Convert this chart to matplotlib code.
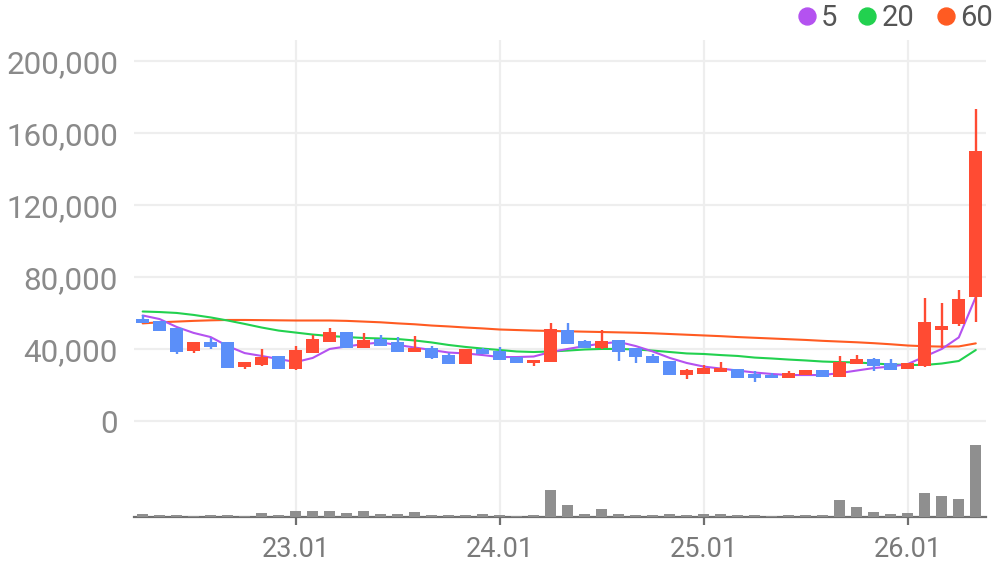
import matplotlib
matplotlib.use("Agg")
import matplotlib.pyplot as plt
from matplotlib.lines import Line2D
import numpy as np
import pandas as pd

plt.rcParams['font.family'] = ['Roboto', 'DejaVu Sans']

# ---------------- data (monthly candles) ----------------
months = pd.date_range('2022-04-01', periods=50, freq='MS')

opens = [56800, 55700, 51800, 39200, 44000, 44000, 30300, 31400, 36200, 29100,
         38100, 44200, 49600, 40800, 45700, 43800, 38600, 40700, 36800, 31900,
         40100, 39000, 36000, 32500, 33000, 50700, 44600, 40700, 45100, 41000,
         36200, 33400, 25800, 26300, 27500, 28800, 26200, 25600, 24100, 25600,
         28400, 24700, 31900, 34400, 32500, 28800, 30600, 50700, 54000, 69200]
highs = [59000, 55700, 51800, 44000, 46400, 44000, 32900, 40300, 36200, 41800,
         48100, 51800, 49600, 49000, 47900, 46800, 47400, 41900, 38100, 40300,
         40800, 41200, 36000, 34000, 54600, 54600, 45100, 50700, 45100, 41000,
         37300, 33400, 29000, 31200, 32900, 28800, 27900, 26600, 27900, 28400,
         28400, 36200, 36800, 35300, 34500, 32300, 68500, 65700, 73000, 173300]
lows = [54800, 50300, 37500, 38100, 40300, 29700, 29200, 30800, 29100, 28600,
        38100, 44200, 40800, 40800, 41900, 38600, 38600, 34500, 31900, 31900,
        37200, 34200, 32500, 30800, 33000, 43100, 40700, 40100, 33600, 32500,
        32500, 25800, 23600, 26300, 27500, 24100, 21900, 24100, 24100, 25600,
        24700, 24700, 31900, 28000, 28400, 28800, 30300, 40500, 52900, 55300]
closes = [54800, 50300, 38600, 44000, 41200, 29700, 32900, 35800, 29100, 39600,
          45800, 49600, 40800, 45300, 41900, 38600, 40800, 35300, 31900, 40300,
          37200, 34200, 32500, 34000, 51300, 43100, 40700, 44600, 38600, 35800,
          32500, 25800, 28400, 29500, 29500, 24100, 24100, 24100, 26600, 28400,
          24700, 32900, 34400, 30800, 28400, 32300, 55200, 52700, 68000, 150400]
volumes = [2.7, 1.7, 1.7, 0.7, 1.7, 1.7, 0.7, 3.7, 1.7, 5.7,
           5.7, 5.7, 3.7, 5.7, 2.7, 2.7, 4.7, 1.7, 1.7, 1.7,
           2.7, 1.7, 0.7, 1.7, 26.7, 11.7, 2.7, 7.7, 2.7, 1.7,
           1.7, 2.7, 1.7, 2.7, 2.7, 1.7, 1.7, 0.7, 1.7, 1.7,
           1.7, 16.7, 9.7, 4.7, 2.7, 3.7, 23.7, 20.7, 17.7, 71.7]

ma5 = [58800, 56800, 52400, 49100, 46800, 41800, 37900, 36300, 34600, 32900,
       35200, 40200, 41600, 42900, 43800, 42400, 41000, 39600, 38200, 37700,
       36800, 35700, 35700, 36000, 38500, 40200, 41800, 43200, 44100, 41800,
       38800, 35200, 32400, 30400, 29300, 28200, 27100, 26300, 25700, 25700,
       25700, 26800, 28200, 29600, 30400, 31800, 36000, 40200, 46600, 69100]
ma20 = [61000, 60700, 60200, 59100, 57700, 56000, 54100, 52100, 50400, 49300,
        48200, 47400, 46800, 46300, 46000, 45700, 44900, 43800, 42400, 41300,
        40400, 39600, 38800, 38500, 38800, 39300, 39900, 40200, 40200, 39900,
        39300, 38500, 37700, 37400, 36800, 36300, 35400, 34900, 34300, 33800,
        33200, 32900, 32700, 32100, 31600, 31300, 31300, 32100, 33500, 39600]
ma60 = [54400, 55000, 55400, 55800, 56100, 56300, 56300, 56200, 56100, 56000,
        56000, 56000, 55800, 55400, 55000, 54400, 53900, 53200, 52700, 52100,
        51600, 51000, 50700, 50400, 50200, 50000, 49800, 49600, 49400, 49200,
        48900, 48500, 48100, 47700, 47300, 46800, 46400, 46000, 45600, 45200,
        44700, 44300, 43900, 43400, 42800, 42100, 41700, 41500, 41600, 43300]

ma_labels = ['5', '20', '60']
ma_colors = ['#b452f0', '#22d14f', '#ff5b22']
up_color = '#ff4b33'
down_color = '#5b8ff9'
vol_color = '#8f8f8f'

y_ticks = [0, 40000, 80000, 120000, 160000, 200000]

# ---------------- figure ----------------
W, H = 996, 567
fig = plt.figure(figsize=(W / 100, H / 100), dpi=100)
fig.patch.set_facecolor('white')

ax_left, ax_w = 134 / W, 852 / W
ax = fig.add_axes([ax_left, (H - 440) / H, ax_w, 400 / H])
axv = fig.add_axes([ax_left, (H - 517) / H, ax_w, 77 / H], sharex=ax)

idx = np.arange(len(months))
o = np.array(opens); c = np.array(closes)
hi = np.array(highs); lo = np.array(lows)
colors = np.where(c >= o, up_color, down_color)

# moving averages
for vals, col in zip([ma60, ma20, ma5], [ma_colors[2], ma_colors[1], ma_colors[0]]):
    ax.plot(idx, vals, color=col, lw=1.5, zorder=2, solid_capstyle='round')

# candles
ax.vlines(idx, lo, hi, colors=colors, lw=1.7, zorder=3)
ax.bar(idx, np.abs(c - o), bottom=np.minimum(o, c), width=0.76,
       color=colors, zorder=4, linewidth=0)

# volume
axv.bar(idx, volumes, width=0.65, color=vol_color, zorder=3, linewidth=0)

# x ticks
tick_pos = [i for i, m in enumerate(months) if m.month == 1]
tick_lab = [m.strftime('%y.%m') for m in months if m.month == 1]

ax.set_xlim(-0.51, 49.6)
ax.set_ylim(-10390, 211850)
axv.set_ylim(0, 77)

ax.set_xticks(tick_pos)
ax.tick_params(axis='x', length=0, labelbottom=False)
ax.set_yticks(y_ticks)
ax.set_yticklabels([f'{v:,}' for v in y_ticks])
ax.tick_params(axis='y', length=0, pad=11.5, labelsize=22.6, labelcolor='#8a8a8a')
ax.grid(True, color='#eeeeee', lw=1.6, zorder=0)
ax.set_axisbelow(True)

axv.set_xticks(tick_pos)
axv.set_xticklabels(tick_lab)
axv.set_yticks([])
axv.tick_params(axis='x', length=5.5, width=1.6, color='#6f6f6f', pad=8,
                labelsize=19.5, labelcolor='#7a7a7a')
axv.grid(True, axis='x', color='#eeeeee', lw=1.6, zorder=0)
axv.set_axisbelow(True)

for a in (ax, axv):
    for s in a.spines.values():
        s.set_visible(False)
    a.set_facecolor('none')
axv.spines['bottom'].set_visible(True)
axv.spines['bottom'].set_color('#6f6f6f')
axv.spines['bottom'].set_linewidth(1.6)

# legend (top right)
dot_x = [806.7, 867.3, 945.7]
txt_x = [820.5, 881.5, 960]
for lab, col, dx, tx in zip(ma_labels, ma_colors, dot_x, txt_x):
    fig.add_artist(Line2D([dx / W], [1 - 15.7 / H], marker='o', markersize=12.2,
                          color=col, linestyle='none', transform=fig.transFigure))
    fig.text(tx / W, 1 - 25.5 / H, lab, fontsize=21, color='#555555',
             ha='left', va='baseline')

fig.savefig('out.png', dpi=100)
